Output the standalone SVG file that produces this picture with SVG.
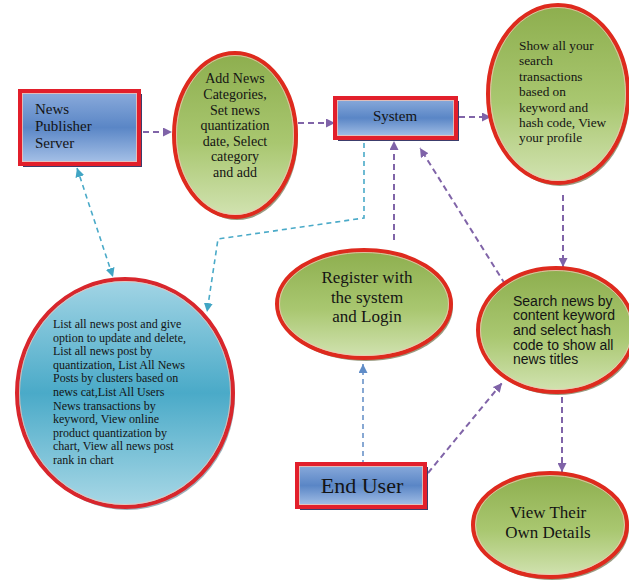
<svg xmlns="http://www.w3.org/2000/svg" width="629" height="581" viewBox="0 0 629 581">
<defs>
<linearGradient id="gBox" x1="0" y1="0" x2="0" y2="1">
<stop offset="0" stop-color="#8cacdc"/><stop offset="0.5" stop-color="#5a86c6"/><stop offset="1" stop-color="#a9c3e8"/>
</linearGradient>
<linearGradient id="gGreen" x1="0" y1="0" x2="0" y2="1">
<stop offset="0" stop-color="#8dae4e"/><stop offset="0.55" stop-color="#a9c770"/><stop offset="1" stop-color="#d2e3b2"/>
</linearGradient>
<linearGradient id="gCyan" x1="0" y1="0" x2="0" y2="1">
<stop offset="0" stop-color="#a3d5e5"/><stop offset="0.5" stop-color="#4aaac8"/><stop offset="1" stop-color="#a9d8e6"/>
</linearGradient>
<marker id="aP" viewBox="0 0 10 10" refX="10" refY="5" markerWidth="9" markerHeight="9" markerUnits="userSpaceOnUse" orient="auto-start-reverse"><path d="M0,0 L10,5 L0,10 z" fill="#7f63a8"/></marker>
<marker id="aT" viewBox="0 0 10 10" refX="10" refY="5" markerWidth="9" markerHeight="9" markerUnits="userSpaceOnUse" orient="auto-start-reverse"><path d="M0,0 L10,5 L0,10 z" fill="#41a5c4"/></marker>
<marker id="aB" viewBox="0 0 10 10" refX="10" refY="5" markerWidth="9" markerHeight="9" markerUnits="userSpaceOnUse" orient="auto-start-reverse"><path d="M0,0 L10,5 L0,10 z" fill="#5f8cc8"/></marker>
</defs>
<style>
.sh{fill:#3c3d6c}
.esh{fill:#6f6f4a;opacity:0.7}
.box{fill:url(#gBox);stroke:#e21f2b;stroke-width:4}
.ell{fill:url(#gGreen);stroke:#de2a1e;stroke-width:4}
.cyan{fill:url(#gCyan);stroke:#d8262c;stroke-width:4}
.inl{fill:none;stroke:#f6c2b4;stroke-width:0.8}
.serif{font-family:"Liberation Serif","Times New Roman",serif;fill:#141414}
.sans{font-family:"Liberation Sans",Arial,sans-serif;fill:#141414}
.p{fill:none;stroke:#8064a8;stroke-width:2;stroke-dasharray:6 4;marker-end:url(#aP)}
.t{fill:none;stroke:#4aaac8;stroke-width:1.6;stroke-dasharray:5 4;marker-end:url(#aT)}
.b{fill:none;stroke:#6a93c9;stroke-width:1.6;stroke-dasharray:5 4;marker-end:url(#aB)}
</style>

<g id="connectors">
<line class="p" x1="143" y1="132" x2="172" y2="132"/>
<line class="p" x1="298" y1="123" x2="335" y2="123"/>
<line class="p" x1="459" y1="117" x2="491" y2="117"/>
<line class="p" x1="563" y1="195" x2="563" y2="267"/>
<line class="p" x1="505" y1="284" x2="420" y2="148"/>
<line class="p" x1="394" y1="240" x2="394" y2="141"/>
<line class="p" x1="428" y1="473" x2="502" y2="383"/>
<line class="p" x1="562" y1="397" x2="562" y2="472"/>
<line class="b" x1="363" y1="465" x2="363" y2="364"/>
<line class="t" x1="77" y1="168" x2="113" y2="277" style="marker-start:url(#aT)"/>
<polyline class="t" points="364,143 364,218 218,239 207,312"/>
</g>

<g id="news-publisher-server">
<rect class="sh" x="23" y="94" width="119" height="73"/>
<rect class="box" x="20" y="91" width="119" height="73"/>
<rect class="inl" x="22.5" y="93.5" width="114" height="68"/>
<text class="serif" font-size="15" x="35"><tspan x="35" y="114">News</tspan><tspan x="35" y="131">Publisher</tspan><tspan x="35" y="148">Server</tspan></text>
</g>

<g id="add-news">
<ellipse class="esh" cx="237" cy="138" rx="61" ry="82"/>
<ellipse class="ell" cx="235" cy="135" rx="61" ry="82"/>
<ellipse class="inl" cx="235" cy="135" rx="58.5" ry="79.5"/>
<text class="serif" font-size="14" text-anchor="middle"><tspan x="235" y="83">Add News</tspan><tspan x="235" y="99">Categories,</tspan><tspan x="235" y="114.5">Set news</tspan><tspan x="235" y="130">quantization</tspan><tspan x="235" y="145.5">date, Select</tspan><tspan x="235" y="161">category</tspan><tspan x="235" y="177">and add</tspan></text>
</g>

<g id="system">
<rect class="sh" x="338" y="101" width="121" height="40"/>
<rect class="box" x="335" y="98" width="121" height="40"/>
<rect class="inl" x="337.5" y="100.5" width="116" height="35"/>
<text class="serif" font-size="15" x="395" y="121" text-anchor="middle">System</text>
</g>

<g id="show-all">
<ellipse class="esh" cx="560" cy="97" rx="70" ry="89"/>
<ellipse class="ell" cx="558" cy="94" rx="70" ry="89"/>
<ellipse class="inl" cx="558" cy="94" rx="67.5" ry="86.5"/>
<text class="serif" font-size="13.3"><tspan x="519" y="50">Show all your</tspan><tspan x="519" y="65.4">search</tspan><tspan x="519" y="80.8">transactions</tspan><tspan x="519" y="96.2">based on</tspan><tspan x="519" y="111.6">keyword and</tspan><tspan x="519" y="127">hash code, View</tspan><tspan x="519" y="142.4">your profile</tspan></text>
</g>

<g id="admin-functions">
<ellipse cx="127" cy="396" rx="108" ry="114" fill="#5c7a8a" opacity="0.6"/>
<ellipse class="cyan" cx="125" cy="393" rx="108" ry="114"/>
<ellipse class="inl" cx="125" cy="393" rx="105.5" ry="111.5"/>
<text class="serif" font-size="12"><tspan x="53" y="328">List all news post and give</tspan><tspan x="53" y="341.6">option to update and delete,</tspan><tspan x="53" y="355.2">List all news post by</tspan><tspan x="53" y="368.8">quantization, List All  News</tspan><tspan x="53" y="382.4">Posts by clusters based on</tspan><tspan x="53" y="396">news cat,List All  Users</tspan><tspan x="53" y="409.6">News transactions by</tspan><tspan x="53" y="423.2">keyword, View  online</tspan><tspan x="53" y="436.8">product quantization by</tspan><tspan x="53" y="450.4">chart, View  all news post</tspan><tspan x="53" y="464">rank in chart</tspan></text>
</g>

<g id="register">
<ellipse class="esh" cx="366" cy="307" rx="87" ry="54"/>
<ellipse class="ell" cx="364" cy="304" rx="87" ry="54"/>
<ellipse class="inl" cx="364" cy="304" rx="84.5" ry="51.5"/>
<text class="serif" font-size="17" text-anchor="middle"><tspan x="367" y="283">Register with</tspan><tspan x="367" y="302.5">the system</tspan><tspan x="367" y="322">and Login</tspan></text>
</g>

<g id="search-news">
<ellipse class="esh" cx="558" cy="333" rx="78" ry="62"/>
<ellipse class="ell" cx="556" cy="330" rx="78" ry="62"/>
<ellipse class="inl" cx="556" cy="330" rx="75.5" ry="59.5"/>
<text class="sans" font-size="14"><tspan x="513" y="305.7">Search news  by</tspan><tspan x="513" y="320.3">content keyword</tspan><tspan x="513" y="334.9">and select hash</tspan><tspan x="513" y="349.5">code to show all</tspan><tspan x="513" y="364">news titles</tspan></text>
</g>

<g id="end-user">
<rect class="sh" x="300" y="467" width="128" height="43"/>
<rect class="box" x="297" y="464" width="128" height="43"/>
<rect class="inl" x="299.5" y="466.5" width="123" height="38"/>
<text class="serif" font-size="22" x="362" y="493" text-anchor="middle">End User</text>
</g>

<g id="view-details">
<ellipse class="esh" cx="552" cy="528" rx="77" ry="52"/>
<ellipse class="ell" cx="550" cy="525" rx="77" ry="52"/>
<ellipse class="inl" cx="550" cy="525" rx="74.5" ry="49.5"/>
<text class="serif" font-size="17" text-anchor="middle"><tspan x="548" y="518">View Their</tspan><tspan x="548" y="538">Own Details</tspan></text>
</g>
</svg>
